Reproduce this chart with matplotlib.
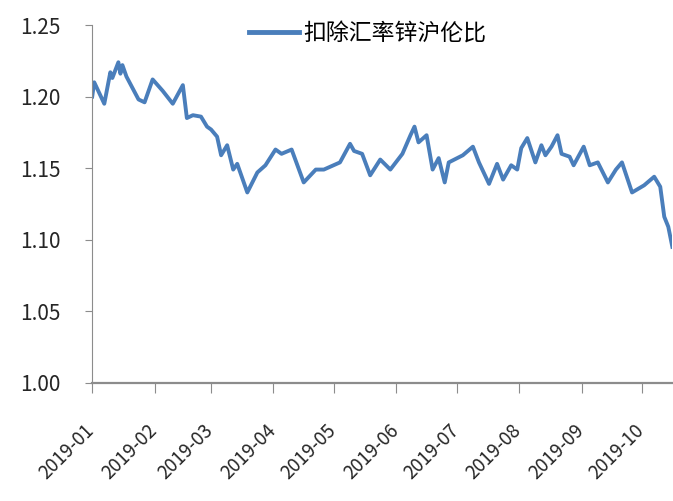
import matplotlib
matplotlib.use('Agg')
import matplotlib.pyplot as plt
import matplotlib.dates as mdates
import matplotlib.transforms as mtransforms
import pandas as pd

plt.rcParams['font.family'] = ['Noto Sans CJK SC', 'DejaVu Sans']

# datos
fechas = ['2019-01-01', '2019-01-02', '2019-01-07', '2019-01-10', '2019-01-11',
          '2019-01-14', '2019-01-15', '2019-01-16', '2019-01-18', '2019-01-24',
          '2019-01-27', '2019-01-31', '2019-02-05', '2019-02-10', '2019-02-15',
          '2019-02-17', '2019-02-20', '2019-02-24', '2019-02-27', '2019-03-01',
          '2019-03-04', '2019-03-06', '2019-03-09', '2019-03-12', '2019-03-14',
          '2019-03-19', '2019-03-24', '2019-03-28', '2019-04-02', '2019-04-05',
          '2019-04-10', '2019-04-16', '2019-04-22', '2019-04-26', '2019-05-04',
          '2019-05-09', '2019-05-11', '2019-05-15', '2019-05-19', '2019-05-24',
          '2019-05-29', '2019-06-04', '2019-06-08', '2019-06-10', '2019-06-12',
          '2019-06-16', '2019-06-19', '2019-06-22', '2019-06-25', '2019-06-27',
          '2019-07-04', '2019-07-09', '2019-07-12', '2019-07-17', '2019-07-21',
          '2019-07-24', '2019-07-28', '2019-07-31', '2019-08-02', '2019-08-05',
          '2019-08-09', '2019-08-12', '2019-08-14', '2019-08-17', '2019-08-20',
          '2019-08-22', '2019-08-26', '2019-08-28', '2019-09-02', '2019-09-05',
          '2019-09-09', '2019-09-14', '2019-09-18', '2019-09-21', '2019-09-26',
          '2019-10-02', '2019-10-07', '2019-10-10', '2019-10-12', '2019-10-14',
          '2019-10-16']
ratio = [1.200, 1.210, 1.195, 1.217, 1.213,
         1.224, 1.216, 1.222, 1.214, 1.198,
         1.196, 1.212, 1.204, 1.195, 1.208,
         1.185, 1.187, 1.186, 1.179, 1.177,
         1.172, 1.159, 1.166, 1.149, 1.153,
         1.133, 1.147, 1.152, 1.163, 1.160,
         1.163, 1.140, 1.149, 1.149, 1.154,
         1.167, 1.162, 1.160, 1.145, 1.156,
         1.149, 1.160, 1.173, 1.179, 1.168,
         1.173, 1.149, 1.157, 1.140, 1.154,
         1.159, 1.165, 1.154, 1.139, 1.153,
         1.142, 1.152, 1.149, 1.164, 1.171,
         1.154, 1.166, 1.159, 1.165, 1.173,
         1.160, 1.158, 1.152, 1.165, 1.152,
         1.154, 1.140, 1.149, 1.154, 1.133,
         1.138, 1.144, 1.137, 1.116, 1.109,
         1.095]
serie = '扣除汇率锌沪伦比'
y_ticks = [1.00, 1.05, 1.10, 1.15, 1.20, 1.25]

x = pd.to_datetime(fechas)

fig = plt.figure(figsize=(6.73, 5.01), dpi=100)
ax = fig.add_axes([0.137, 0.236, 0.862, 0.714])
ax.plot(x, ratio, color='#4A7EBB', linewidth=2.8, label=serie)

ax.set_ylim(1.00, 1.25)
ax.set_yticks(y_ticks)
ax.set_yticklabels(['%.2f' % v for v in y_ticks])
ax.set_xlim(pd.Timestamp('2019-01-01'), pd.Timestamp('2019-10-16'))
ax.xaxis.set_major_locator(mdates.MonthLocator())
ax.xaxis.set_major_formatter(mdates.DateFormatter('%Y-%m'))

for s in ['top', 'right']:
    ax.spines[s].set_visible(False)
ax.spines['left'].set_color('#8c8c8c')
ax.spines['bottom'].set_color('#8c8c8c')
ax.spines['bottom'].set_linewidth(1.6)

ax.tick_params(axis='y', direction='out', length=5, color='#8c8c8c', pad=18,
               labelsize=15, labelcolor='#262626')
ax.tick_params(axis='x', direction='out', length=7, color='#8c8c8c', pad=20,
               labelsize=13.5, labelcolor='#262626')
plt.setp(ax.get_xticklabels(), rotation=45, ha='right', rotation_mode='anchor')
# correr las etiquetas un poco a la izquierda
desplazar = mtransforms.ScaledTranslation(-6 / 72, 0, fig.dpi_scale_trans)
for lbl in ax.get_xticklabels():
    lbl.set_transform(lbl.get_transform() + desplazar)

ax.legend(loc='upper center', bbox_to_anchor=(0.475, 1.065), frameon=False,
          fontsize=16.5, handlelength=2.2, handletextpad=0.2)
for l in ax.get_legend().get_lines():
    l.set_linewidth(3.5)

fig.savefig('out.png', dpi=100)
